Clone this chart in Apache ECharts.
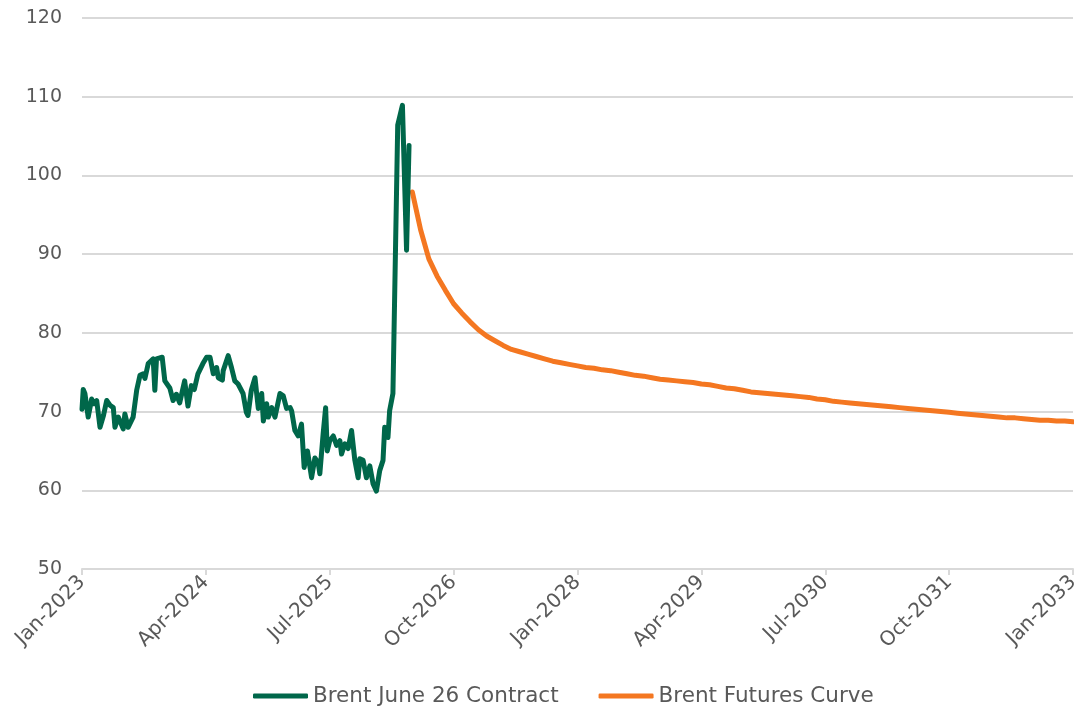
<!DOCTYPE html>
<html>
<head>
<meta charset="utf-8">
<script src="https://cdn.jsdelivr.net/npm/echarts@6/dist/echarts.min.js"></script>
<style>
  html, body { margin: 0; padding: 0; background: #fff; }
  #main { width: 1074px; height: 706px; }
</style>
</head>
<body>
<div id="main"></div>
<script>
// x values are months counted from Jan-2023
var monthNames = ['Jan','Feb','Mar','Apr','May','Jun','Jul','Aug','Sep','Oct','Nov','Dec'];

// Brent June 26 contract
var contractMonths = [
  0.00, 0.15, 0.35, 0.75, 1.17, 1.45, 1.78, 2.18, 2.60, 2.99, 3.39, 3.79, 3.99, 4.39, 4.99,
  5.19, 5.59, 6.19, 6.62, 7.02, 7.42, 7.62, 8.02, 8.62, 8.82, 9.02, 9.71, 10.03, 10.63, 11.03,
  11.43, 11.83, 12.43, 12.83, 13.24, 13.60, 14.04, 14.64, 15.09, 15.50, 15.90, 16.30, 16.50, 17.00, 17.10,
  17.70, 18.10, 18.50, 18.90, 19.50, 19.90, 20.10, 20.50, 20.95, 21.15, 21.35, 21.76, 21.96, 22.36, 22.56,
  22.97, 23.37, 23.97, 24.37, 24.77, 25.20, 25.38, 25.78, 26.18, 26.58, 26.90, 27.30, 27.80, 28.20, 28.60,
  28.80, 29.20, 29.50, 29.70, 30.00, 30.43, 30.83, 31.23, 31.43, 31.83, 32.23, 32.64, 33.04, 33.44, 33.64,
  34.04, 34.44, 34.85, 35.25, 35.65, 36.05, 36.45, 36.65, 37.05, 37.25, 37.65, 38.23, 38.80, 39.30, 39.60
];
var contractValues = [
  70.3, 72.8, 72.3, 69.3, 71.6, 71.0, 71.4, 68.0, 69.5, 71.4, 70.8, 70.5, 68.0, 69.3, 67.8,
  69.7, 68.0, 69.3, 72.7, 74.6, 74.8, 74.2, 76.1, 76.7, 72.7, 76.7, 76.9, 73.9, 73.0, 71.4,
  72.2, 71.1, 73.9, 70.7, 73.3, 72.8, 74.8, 76.1, 76.9, 76.9, 74.8, 75.6, 74.3, 74.0, 75.2,
  77.1, 75.6, 73.9, 73.5, 72.3, 69.9, 69.5, 72.7, 74.3, 72.3, 70.4, 72.3, 68.8, 71.0, 69.3,
  70.5, 69.3, 72.3, 72.0, 70.4, 70.5, 70.1, 67.6, 66.9, 68.4, 62.9, 65.0, 61.6, 64.1, 63.5,
  62.1, 67.2, 70.5, 65.0, 66.3, 66.9, 65.7, 66.3, 64.6, 65.9, 65.3, 67.6, 63.8, 61.6, 64.0,
  63.8, 61.6, 63.1, 60.8, 59.9, 62.5, 63.8, 68.0, 66.7, 70.1, 72.3, 106.4, 108.9, 90.5, 103.8
];

// Brent futures curve, monthly from May-2026 (month 40) to Jan-2033 (month 120)
var curveStart = 40;
var curveValues = [
  97.9, 93.1, 89.4, 87.2, 85.4, 83.7, 82.5, 81.4, 80.4, 79.6, 79.0, 78.4, 77.9, 77.6, 77.3, 77.0,
  76.7, 76.4, 76.2, 76.0, 75.8, 75.6, 75.5, 75.3, 75.2, 75.0, 74.8, 74.6, 74.5, 74.3, 74.1, 74.0,
  73.9, 73.8, 73.7, 73.5, 73.4, 73.2, 73.0, 72.9, 72.7, 72.5, 72.4, 72.3, 72.2, 72.1, 72.0, 71.9,
  71.8, 71.6, 71.5, 71.3, 71.2, 71.1, 71.0, 70.9, 70.8, 70.7, 70.6, 70.5, 70.4, 70.3, 70.2, 70.1,
  70.0, 69.9, 69.8, 69.7, 69.6, 69.5, 69.4, 69.3, 69.2, 69.2, 69.1, 69.0, 68.9, 68.9, 68.8, 68.8,
  68.7
];

var seriesNames = ['Brent June 26 Contract', 'Brent Futures Curve'];

var contractData = contractMonths.map(function (m, i) { return [m, contractValues[i]]; });
var curveData = curveValues.map(function (v, i) { return [curveStart + i, v]; });

var chart = echarts.init(document.getElementById('main'));
var textColor = '#595959';
var font = 'DejaVu Sans';

chart.setOption({
  animation: false,
  grid: { left: 82, right: 1, top: 18, bottom: 137, outerBoundsMode: 'none', containLabel: false },
  legend: {
    top: 680,
    left: 248,
    itemWidth: 55,
    itemHeight: 5,
    itemGap: 40,
    icon: 'roundRect',
    textStyle: { color: textColor, fontSize: 21.5, fontFamily: font },
    data: seriesNames
  },
  xAxis: {
    type: 'value',
    min: 0,
    max: 120,
    interval: 15,
    splitLine: { show: false },
    axisLine: { lineStyle: { color: '#d9d9d9', width: 2 } },
    axisTick: { show: true, length: 6, lineStyle: { color: '#d9d9d9', width: 2 } },
    axisLabel: {
      rotate: 45,
      margin: 10,
      color: textColor,
      fontSize: 20,
      fontFamily: font,
      formatter: function (v) {
        return monthNames[v % 12] + '-' + (2023 + Math.floor(v / 12));
      }
    }
  },
  yAxis: {
    type: 'value',
    min: 50,
    max: 120,
    interval: 10,
    axisLine: { show: false },
    axisTick: { show: false },
    splitLine: { lineStyle: { color: '#d9d9d9', width: 2 } },
    axisLabel: { margin: 20, color: textColor, fontSize: 19, fontFamily: font }
  },
  series: [
    {
      name: seriesNames[0],
      type: 'line',
      data: contractData,
      showSymbol: false,
      color: '#00674a',
      lineStyle: { width: 5, cap: 'round', join: 'round' },
      z: 3
    },
    {
      name: seriesNames[1],
      type: 'line',
      data: curveData,
      showSymbol: false,
      color: '#f47721',
      lineStyle: { width: 5, cap: 'round', join: 'round' },
      z: 2
    }
  ]
});
</script>
</body>
</html>
